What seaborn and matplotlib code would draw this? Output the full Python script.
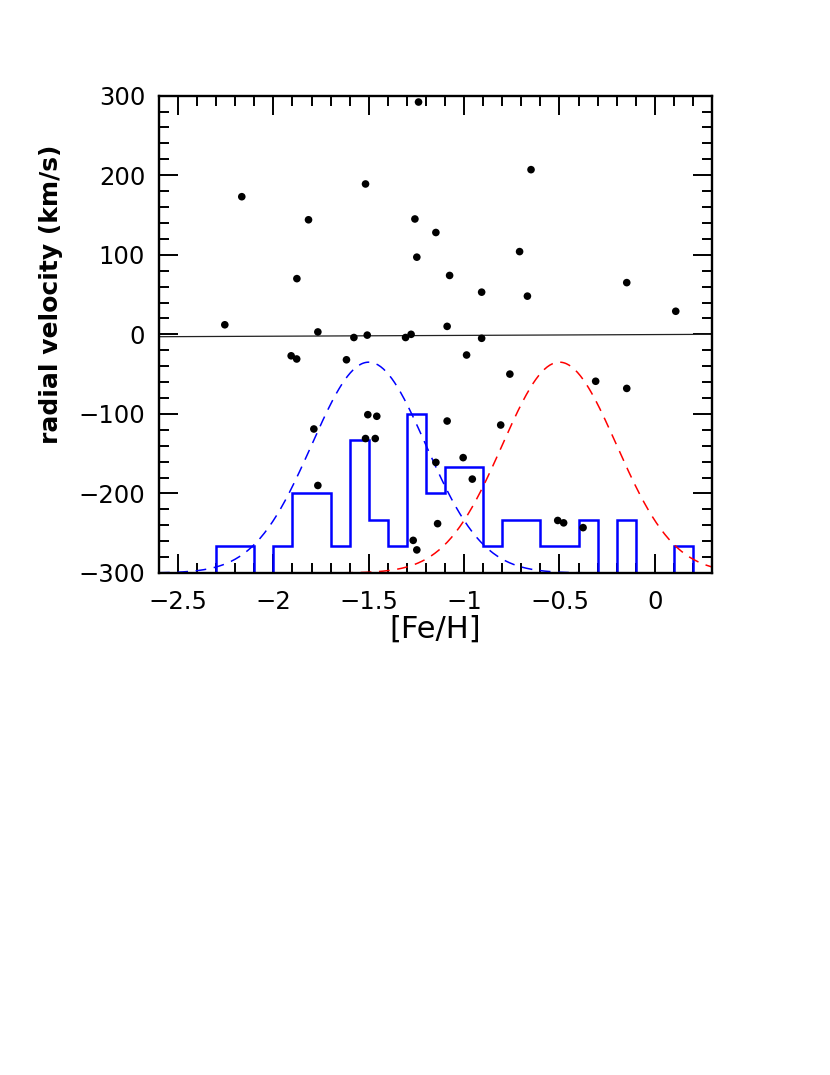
import numpy as np
import pandas as pd
import matplotlib
matplotlib.use("Agg")
import matplotlib.pyplot as plt
from matplotlib.ticker import MultipleLocator
import seaborn as sns

# [Fe/H] and radial velocity of each star
feh = [-1.239, -2.166, -1.517, -1.816, -1.258, -1.148, -1.248, -1.877,
       -2.255, -1.767, -1.578, -1.508, -1.307, -1.278,
       -0.649, -0.709, -1.076, -0.147, -0.908, -0.668, 0.110, -1.089,
       -0.908,
       -1.907, -1.878, -1.617, -1.505, -1.458, -1.788, -1.517, -1.466,
       -1.148, -1.767, -1.139, -1.267, -1.248,
       -0.987, -0.760, -0.310, -0.147, -1.089, -0.808, -1.005, -0.957,
       -0.509, -0.478, -0.376]
rv = [292, 173, 189, 144, 145, 128, 97, 70,
      12, 3, -4, -1, -4, 0,
      207, 104, 74, 65, 53, 48, 29, 10,
      -5,
      -27, -31, -32, -101, -103, -119, -131, -131,
      -161, -190, -238, -259, -271,
      -26, -50, -59, -68, -109, -114, -155, -182,
      -234, -237, -243]

# histogram bins in [Fe/H]
bin_edges = np.round(np.arange(-2.3, 0.25, 0.1), 1)
hist_base = -300
hist_unit = 100 / 3.0

# two gaussian components (centre, width, peak height above base)
comp_mu = [-1.5, -0.5]
comp_sigma = [0.30, 0.30]
comp_amp = [265, 265]
comp_colors = ["#0000ff", "#ff0000"]

# nearly flat fit line
fit_x = [-2.6, 0.3]
fit_y = [-3, 0]

df = pd.DataFrame({"feh": feh, "rv": rv})

sns.set_style("ticks")
plt.rcParams["font.family"] = ["DejaVu Sans"]
plt.rcParams["text.color"] = "black"
plt.rcParams["axes.labelcolor"] = "black"
plt.rcParams["xtick.color"] = "black"
plt.rcParams["ytick.color"] = "black"

fig = plt.figure(figsize=(8.3, 10.75), dpi=100)
ax = fig.add_axes([0.1916, 0.467, 0.6662, 0.4440])

sns.lineplot(x=fit_x, y=fit_y, color="#222222", linewidth=0.9, ax=ax)

xs = np.linspace(-2.6, 0.3, 400)
for mu, sg, amp, c in zip(comp_mu, comp_sigma, comp_amp, comp_colors):
    ys = hist_base + amp * np.exp(-(xs - mu) ** 2 / (2 * sg ** 2))
    sns.lineplot(x=xs, y=ys, color=c, linewidth=1.1, ax=ax,
                 linestyle=(0, (7, 5)))

counts, _ = np.histogram(df["feh"], bins=bin_edges)
ax.stairs(hist_base + counts * hist_unit, bin_edges, baseline=hist_base,
          color="#0000ff", linewidth=1.8)

sns.scatterplot(data=df, x="feh", y="rv", color="black", s=30,
                edgecolor="none", ax=ax, zorder=5)

ax.set_xlim(-2.6, 0.3)
ax.set_ylim(-300, 300)
ax.xaxis.set_major_locator(MultipleLocator(0.5))
ax.xaxis.set_minor_locator(MultipleLocator(0.1))
ax.yaxis.set_major_locator(MultipleLocator(100))
ax.yaxis.set_minor_locator(MultipleLocator(20))
ax.xaxis.set_major_formatter(matplotlib.ticker.FuncFormatter(
    lambda v, p: ("%g" % v).replace("-", "\u2212")))
ax.tick_params(which="both", direction="in", top=True, right=True,
               width=1.4, color="black", labelcolor="black", labelsize=17.5)
ax.tick_params(which="major", length=14)
ax.tick_params(which="minor", length=7)
ax.tick_params(axis="y", pad=10)
ax.tick_params(axis="x", pad=12)
for sp in ax.spines.values():
    sp.set_linewidth(1.7)
    sp.set_color("black")

ax.set_xlabel("[Fe/H]", fontsize=22, labelpad=1)
ax.set_ylabel("radial velocity (km/s)", fontsize=18, fontweight="bold")
ax.yaxis.set_label_coords(-0.174, 0.583)

fig.savefig("out.png", dpi=100)
